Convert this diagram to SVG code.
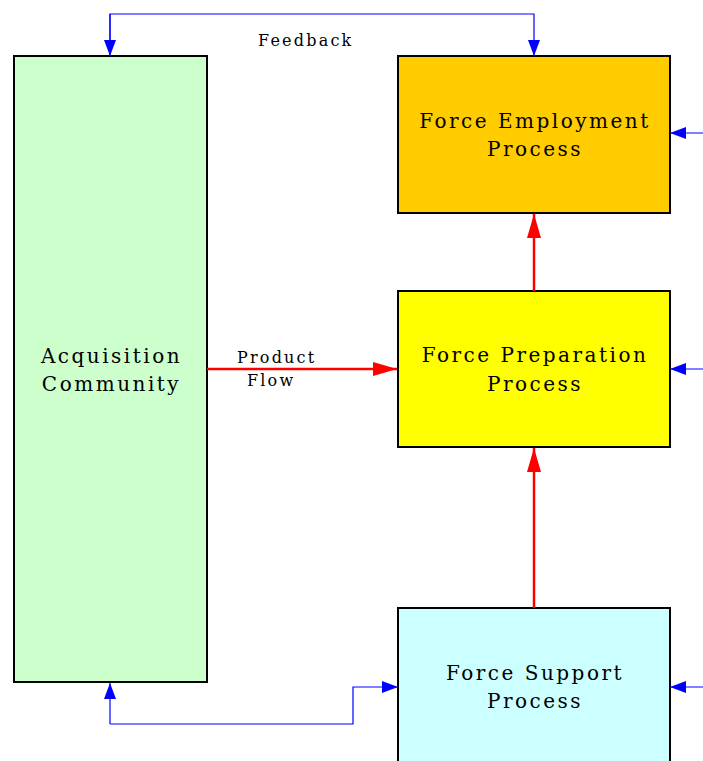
<svg xmlns="http://www.w3.org/2000/svg" width="703" height="761" viewBox="0 0 703 761">
<style>
.box{stroke:#000;stroke-width:2}
.lbl{font-family:"DejaVu Serif","Liberation Serif",serif;font-size:20px;letter-spacing:2.5px;text-anchor:middle;fill:#000}
.sm{font-family:"DejaVu Serif","Liberation Serif",serif;font-size:16px;letter-spacing:2.2px;fill:#000}
.blue{stroke:#0000FF;stroke-width:1.2;fill:none}
.red{stroke:#FF0000;stroke-width:2.5;fill:none}
</style>
<defs>
<marker id="ar" markerWidth="24" markerHeight="14" refX="24" refY="7" orient="auto" markerUnits="userSpaceOnUse" viewBox="0 0 24 14"><path d="M0,0 L24,7 L0,14 z" fill="#FF0000"/></marker>
<marker id="abl" viewBox="0 0 16 12" markerWidth="16" markerHeight="12" refX="16" refY="6" orient="auto" markerUnits="userSpaceOnUse"><path d="M0,0 L16,6 L0,12 z" fill="#0000FF"/></marker>
</defs>
<g id="acquisition">
<rect class="box" x="14" y="56" width="193" height="626" fill="#CCFFCC"/>
<text class="lbl" x="111.5" y="363">Acquisition</text>
<text class="lbl" x="111.5" y="391">Community</text>
</g>
<g id="employment">
<rect class="box" x="398" y="56" width="272" height="157" fill="#FFCC00"/>
<text class="lbl" x="535" y="128">Force Employment</text>
<text class="lbl" x="535" y="156">Process</text>
</g>
<g id="preparation">
<rect class="box" x="398" y="291" width="272" height="156" fill="#FFFF00"/>
<text class="lbl" x="535" y="362">Force Preparation</text>
<text class="lbl" x="535" y="391">Process</text>
</g>
<g id="support">
<rect class="box" x="398" y="608" width="272" height="170" fill="#CCFFFF"/>
<text class="lbl" x="535" y="680">Force Support</text>
<text class="lbl" x="535" y="708">Process</text>
</g>
<g id="connectors">
<polyline class="blue" points="110,56 110,14 534,14 534,56" marker-end="url(#abl)"/>
<line class="blue" x1="110" y1="14" x2="110" y2="56" marker-end="url(#abl)"/>
<polyline class="blue" points="110,724 353,724 353,687 398,687" marker-end="url(#abl)"/>
<line class="blue" x1="110" y1="724" x2="110" y2="683" marker-end="url(#abl)"/>
<line class="blue" x1="703" y1="133" x2="670" y2="133" marker-end="url(#abl)"/>
<line class="blue" x1="703" y1="369" x2="670" y2="369" marker-end="url(#abl)"/>
<line class="blue" x1="703" y1="687" x2="670" y2="687" marker-end="url(#abl)"/>
<line class="red" x1="207" y1="369" x2="397" y2="369" marker-end="url(#ar)"/>
<line class="red" x1="534" y1="291" x2="534" y2="214" marker-end="url(#ar)"/>
<line class="red" x1="534" y1="608" x2="534" y2="448" marker-end="url(#ar)"/>
<text class="sm" x="258" y="46">Feedback</text>
<text class="sm" x="237" y="363">Product</text>
<text class="sm" x="247" y="386">Flow</text>
</g>
</svg>
